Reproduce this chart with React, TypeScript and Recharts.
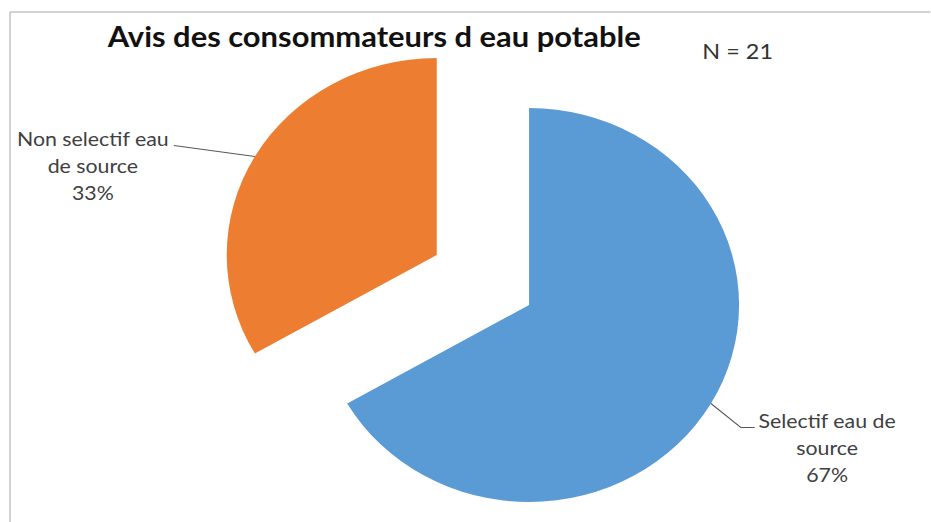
import React from 'react';
import { PieChart, Pie, Cell } from 'recharts';

const categories = ['Selectif eau de source', 'Non selectif eau de source'];
const counts = [14, 7];
const sliceColors = ['#5B9BD5', '#ED7D31'];
const chartTitle = 'Avis des consommateurs d eau potable';
const sampleSize = 'N = 21';

const RADIAN = Math.PI / 180;
// the source picture is stretched a little horizontally
const STRETCH_X = 1.066;
const WIDTH = 873;
const HEIGHT = 522;
const CX = 453;
const CY = 280;
const RADIUS = 197;
const EXPLODE = 50;
const FONT = 'Lato, "Open Sans", sans-serif';

const data = categories.map((name, i) => ({ name, value: counts[i] }));
const total = counts.reduce((a, b) => a + b, 0);

// mid angle of each slice, same convention as recharts (start 90, clockwise)
const midAngles = counts.map((v, i) => {
    const before = counts.slice(0, i).reduce((a, b) => a + b, 0);
    return 90 - (360 * (before + v / 2)) / total;
});

const wrap = (text: string, max: number) => {
    const lines: string[] = [];
    let cur = '';
    text.split(' ').forEach((w) => {
        const next = cur ? cur + ' ' + w : w;
        if (next.length > max && cur) {
            lines.push(cur);
            cur = w;
        } else {
            cur = next;
        }
    });
    if (cur) lines.push(cur);
    return lines;
};

const makeLabel = (visible: number) => (props: any) => {
    const { cx, cy, midAngle, outerRadius, percent, name, index } = props;
    if (index !== visible) return <g />;
    const sx = cx + outerRadius * Math.cos(-midAngle * RADIAN);
    const sy = cy + outerRadius * Math.sin(-midAngle * RADIAN);
    const lines = [...wrap(name, 16), `${Math.round(percent * 100)}%`];
    const right = Math.cos(-midAngle * RADIAN) > 0;
    const points = right
        ? `${sx},${sy} ${sx + 28},${sy + 24} ${sx + 41},${sy + 24}`
        : `${sx},${sy} ${sx - 76},${sy - 11}`;
    const tx = right ? sx + 109 : sx - 152;
    const ty = right ? sy + 25 : sy - 10;
    return (
        <g>
            <polyline points={points} fill="none" stroke="#595959" strokeWidth={1} />
            {lines.map((l, i) => (
                <text key={i} x={tx} y={ty + i * 27} textAnchor="middle" fontFamily={FONT} fontSize={20} fill="#404040">
                    {l}
                </text>
            ))}
        </g>
    );
};

export default function App() {
    return (
        <div style={{ position: 'fixed', left: 0, top: 0, width: 931, height: HEIGHT, overflow: 'hidden', background: '#fff' }}>
            <style>{'html, body { margin: 0; overflow: hidden; }'}</style>
            <div style={{ width: WIDTH, height: HEIGHT, transform: `scaleX(${STRETCH_X})`, transformOrigin: '0 0' }}>
                <PieChart width={WIDTH} height={HEIGHT} margin={{ top: 0, right: 0, bottom: 0, left: 0 }}>
                    <line x1={9.4} y1={12} x2={WIDTH} y2={12} stroke="#c4c4c4" strokeWidth={1.5} />
                    <line x1={9.4} y1={12} x2={9.4} y2={HEIGHT} stroke="#c4c4c4" strokeWidth={1.5} />
                    <text x={351} y={47} textAnchor="middle" textLength={500} lengthAdjust="spacingAndGlyphs" fontFamily={FONT} fontWeight="bold" fontSize={28} fill="#111">
                        {chartTitle}
                    </text>
                    <text x={692} y={59} textAnchor="middle" fontFamily={FONT} fontSize={22} fill="#333">
                        {sampleSize}
                    </text>
                    {categories.map((_, k) => (
                        <Pie
                            key={k}
                            data={data}
                            dataKey="value"
                            nameKey="name"
                            cx={CX + EXPLODE * Math.cos(midAngles[k] * RADIAN)}
                            cy={CY - EXPLODE * Math.sin(midAngles[k] * RADIAN)}
                            outerRadius={RADIUS}
                            startAngle={90}
                            endAngle={-270}
                            stroke="none"
                            label={makeLabel(k)}
                            labelLine={false}
                            isAnimationActive={false}
                        >
                            {data.map((d, i) => (
                                <Cell key={d.name} fill={i === k ? sliceColors[i] : 'transparent'} />
                            ))}
                        </Pie>
                    ))}
                </PieChart>
            </div>
        </div>
    );
}
